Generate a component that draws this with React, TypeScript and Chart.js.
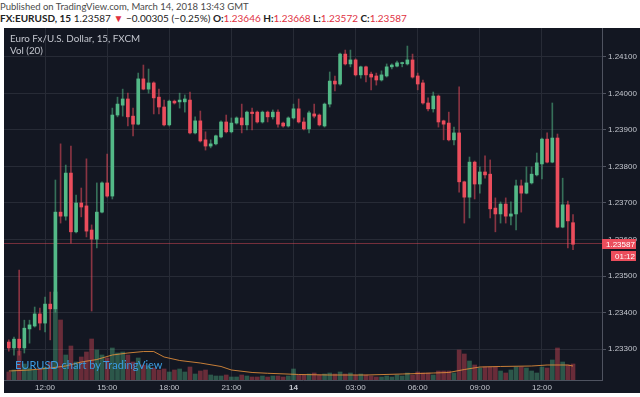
import React, { useEffect, useRef } from "react";
import { Chart, registerables } from "chart.js";

Chart.register(...registerables);

// 15-minute EURUSD candles, Mar 13 10:15 -> Mar 14 13:30 (GMT)
const opens = [
  1.23319, 1.23303, 1.23327, 1.23303, 1.23355, 1.23363, 1.23396, 1.23371, 1.23423, 1.2341,
  1.23675, 1.23664, 1.23782, 1.23621, 1.237, 1.23692, 1.23626, 1.23601, 1.23675, 1.23755,
  1.23719, 1.23941, 1.23968, 1.23985, 1.23938, 1.23916, 1.2404, 1.24012, 1.24029, 1.2399,
  1.23963, 1.23914, 1.23979, 1.23977, 1.23977, 1.23982, 1.23892, 1.23925, 1.23873, 1.23856,
  1.23862, 1.23881, 1.23922, 1.23895, 1.23919, 1.23933, 1.23914, 1.23949, 1.23949, 1.23922,
  1.23949, 1.23936, 1.23949, 1.23919, 1.23911, 1.23933, 1.23958, 1.23922, 1.23903, 1.23944,
  1.23941, 1.23911, 1.23971, 1.24034, 1.24026, 1.24108, 1.24081, 1.24092, 1.24051, 1.24073,
  1.24053, 1.24048, 1.24037, 1.24048, 1.24073, 1.24075, 1.24082, 1.24081, 1.24092, 1.24048,
  1.24029, 1.23974, 1.23958, 1.23993, 1.23925, 1.23919, 1.23873, 1.23892, 1.23758, 1.23716,
  1.23812, 1.23752, 1.23785, 1.23779, 1.23686, 1.2367, 1.23697, 1.23664, 1.2367, 1.23747,
  1.23727, 1.23755, 1.23777, 1.23807, 1.23875, 1.23812, 1.23878, 1.23634, 1.23695, 1.23646,
];
const highs = [
  1.23325, 1.23333, 1.23516, 1.23379, 1.23379, 1.23415, 1.23412, 1.23442, 1.23456, 1.23763,
  1.23862, 1.23804, 1.23856, 1.23722, 1.23741, 1.23821, 1.2364, 1.23755, 1.23758, 1.23834,
  1.2396, 1.2399, 1.24012, 1.24001, 1.2396, 1.24056, 1.24078, 1.24067, 1.24032, 1.24012,
  1.23982, 1.23982, 1.23982, 1.24001, 1.23996, 1.24004, 1.23936, 1.23952, 1.23895, 1.23873,
  1.23886, 1.23925, 1.23941, 1.23933, 1.23936, 1.23971, 1.23952, 1.2396, 1.23952, 1.23952,
  1.23952, 1.23955, 1.23955, 1.23922, 1.23936, 1.23971, 1.23985, 1.23933, 1.23952, 1.23971,
  1.23944, 1.23974, 1.24059, 1.24048, 1.24111, 1.24119, 1.24119, 1.24095, 1.24075, 1.24075,
  1.24059, 1.24056, 1.24062, 1.24081, 1.24081, 1.24089, 1.24086, 1.2413, 1.24108, 1.24056,
  1.24037, 1.23988, 1.24004, 1.23996, 1.23927, 1.23949, 1.23908, 1.24018, 1.2376, 1.23826,
  1.23815, 1.23799, 1.23829, 1.23818, 1.23714, 1.23703, 1.23714, 1.23703, 1.23763, 1.23763,
  1.23799, 1.23799, 1.23837, 1.23878, 1.23892, 1.23974, 1.23889, 1.23768, 1.23705, 1.23668,
];
const lows = [
  1.23294, 1.23283, 1.23283, 1.23289, 1.23316, 1.2336, 1.23352, 1.23347, 1.23325, 1.23401,
  1.23645, 1.23653, 1.2359, 1.23618, 1.23662, 1.23607, 1.23404, 1.23577, 1.23673, 1.23716,
  1.23711, 1.23936, 1.23938, 1.23911, 1.23884, 1.23914, 1.2401, 1.24001, 1.23944, 1.23944,
  1.23911, 1.23911, 1.23971, 1.2396, 1.23949, 1.23889, 1.23889, 1.23867, 1.23845, 1.23851,
  1.23859, 1.23878, 1.23892, 1.23892, 1.23916, 1.23892, 1.239, 1.239, 1.23919, 1.23919,
  1.23922, 1.2393, 1.23908, 1.23908, 1.23908, 1.2393, 1.23919, 1.239, 1.23892, 1.23933,
  1.23911, 1.23908, 1.23963, 1.24007, 1.24023, 1.24078, 1.24073, 1.24048, 1.24042, 1.24032,
  1.2401, 1.24023, 1.24034, 1.24045, 1.24067, 1.24073, 1.24073, 1.24078, 1.24042, 1.2401,
  1.23971, 1.23952, 1.23949, 1.23908, 1.23873, 1.2387, 1.23859, 1.2373, 1.23645, 1.23659,
  1.23711, 1.23727, 1.23768, 1.23659, 1.23621, 1.23645, 1.23645, 1.2364, 1.23626, 1.23675,
  1.23725, 1.23752, 1.23774, 1.23766, 1.2381, 1.2381, 1.23632, 1.23632, 1.23577, 1.23572,
];
const closes = [
  1.23303, 1.23327, 1.23303, 1.23357, 1.23366, 1.23396, 1.23371, 1.23423, 1.2341, 1.23675,
  1.23664, 1.23782, 1.23621, 1.237, 1.23689, 1.23623, 1.23601, 1.23675, 1.23755, 1.23719,
  1.23941, 1.23971, 1.23985, 1.23936, 1.23916, 1.2404, 1.24012, 1.24029, 1.23988, 1.23963,
  1.23914, 1.23979, 1.23974, 1.23982, 1.23985, 1.23892, 1.23925, 1.2387, 1.23856, 1.23862,
  1.23884, 1.23922, 1.23895, 1.23919, 1.23933, 1.23914, 1.23949, 1.23945, 1.23922, 1.23949,
  1.23936, 1.23949, 1.23916, 1.23911, 1.23933, 1.23958, 1.23922, 1.23903, 1.23947, 1.23938,
  1.23914, 1.23971, 1.24034, 1.24026, 1.24108, 1.24081, 1.24092, 1.24051, 1.24073, 1.24051,
  1.24045, 1.24037, 1.24051, 1.24073, 1.24078, 1.24084, 1.24084, 1.24092, 1.24045, 1.24026,
  1.23974, 1.23958, 1.23993, 1.23922, 1.23916, 1.23873, 1.23892, 1.23758, 1.23716, 1.23812,
  1.23752, 1.23785, 1.23777, 1.23684, 1.2367, 1.23697, 1.23664, 1.2367, 1.23747, 1.23727,
  1.23755, 1.23779, 1.2381, 1.23875, 1.23812, 1.23878, 1.23634, 1.23695, 1.23651, 1.23587,
];
const volumes = [
  200, 250, 725, 400, 300, 250, 275, 325, 450, 2200,
  1500, 625, 850, 450, 575, 700, 1025, 750, 625, 550,
  800, 675, 700, 625, 450, 550, 375, 350, 300, 250,
  275, 200, 250, 275, 200, 325, 150, 225, 250, 125,
  100, 100, 125, 75, 75, 125, 100, 75, 75, 100,
  75, 100, 100, 75, 100, 275, 125, 125, 150, 175,
  125, 150, 175, 150, 200, 150, 175, 125, 150, 125,
  100, 75, 75, 100, 75, 125, 100, 175, 125, 200,
  175, 175, 125, 225, 225, 225, 175, 750, 650, 475,
  375, 300, 325, 325, 325, 225, 175, 250, 325, 325,
  300, 225, 175, 325, 300, 500, 800, 450, 375, 400,
];
// Vol MA(20) read at selected bars
const maIndex = [0, 4, 8, 11, 14, 17, 20, 23, 26, 28, 30, 33, 37, 41, 43, 47, 50, 56, 62, 69, 76, 82, 85, 88, 91, 95, 101, 104, 108, 109];
const maValues = [225, 250, 300, 350, 450, 512, 625, 675, 712, 712, 575, 488, 425, 338, 250, 188, 168, 138, 125, 125, 150, 175, 188, 262, 325, 338, 350, 375, 375, 350];

const timeTickIndex = [7, 19, 31, 43, 55, 67, 79, 91, 103];
const timeTickLabels = ["12:00", "15:00", "18:00", "21:00", "14", "03:00", "06:00", "09:00", "12:00"];
const lastPrice = 1.23587;
const countdown = "01:12";

const UP = "#53b987";
const DOWN = "#eb4d5c";
const TXT = "#c3c6ce";
const GRID = "#272b36";
const AXIS = "#4f5360";

const priceLinePlugin = {
  id: "priceLine",
  beforeDatasetsDraw(chart: any) {
    const { ctx, chartArea, scales } = chart;
    const y = Math.round(scales.y.getPixelForValue(lastPrice)) - 0.5;
    ctx.save();
    ctx.strokeStyle = "rgba(235,77,92,0.45)";
    ctx.lineWidth = 1;
    ctx.beginPath();
    ctx.moveTo(chartArea.left, y);
    ctx.lineTo(chartArea.right, y);
    ctx.stroke();
    ctx.restore();
  },
  afterDraw(chart: any) {
    const { ctx, chartArea, scales } = chart;
    const y = Math.round(scales.y.getPixelForValue(lastPrice));
    ctx.save();
    ctx.fillStyle = DOWN;
    ctx.fillRect(chartArea.right, y - 5, 34, 10);
    ctx.fillRect(chartArea.right + 9, y + 7, 25, 10);
    ctx.fillStyle = "#ffffff";
    ctx.font = '8px "Liberation Sans", Arial, sans-serif';
    ctx.textBaseline = "middle";
    ctx.textAlign = "left";
    ctx.fillText(lastPrice.toFixed(5), chartArea.right + 4, y + 0.5);
    ctx.fillText(countdown, chartArea.right + 13, y + 12.5);
    ctx.restore();
  },
};

export default function App() {
  const ref = useRef<HTMLCanvasElement | null>(null);

  useEffect(() => {
    if (!ref.current) return;
    const up = opens.map((o, i) => closes[i] >= o);
    const chart = new Chart(ref.current, {
      type: "bar",
      data: {
        datasets: [
          {
            type: "bar",
            label: "Volume",
            data: volumes.map((v, i) => ({ x: i, y: v })),
            yAxisID: "yv",
            backgroundColor: up.map((u) => (u ? "rgba(83,185,135,0.4)" : "rgba(235,77,92,0.4)")),
            barThickness: 4,
            grouped: false,
            order: 4,
          } as any,
          {
            type: "line",
            label: "Vol MA",
            data: maIndex.map((x, k) => ({ x, y: maValues[k] })),
            yAxisID: "yv",
            borderColor: "rgba(230,145,60,0.85)",
            borderWidth: 1,
            pointRadius: 0,
            tension: 0,
            order: 3,
          } as any,
          {
            type: "bar",
            label: "Wicks",
            data: lows.map((l, i) => ({ x: i, y: [l, highs[i]] })),
            yAxisID: "y",
            backgroundColor: up.map((u) => (u ? "rgba(83,185,135,0.55)" : "rgba(235,77,92,0.55)")),
            barThickness: 1,
            grouped: false,
            order: 2,
          } as any,
          {
            type: "bar",
            label: "Bodies",
            data: opens.map((o, i) => ({ x: i, y: [o, closes[i]] })),
            yAxisID: "y",
            backgroundColor: up.map((u) => (u ? UP : DOWN)),
            barThickness: 3,
            minBarLength: 1,
            grouped: false,
            order: 1,
          } as any,
        ],
      },
      options: {
        animation: false,
        responsive: false,
        devicePixelRatio: 1,
        layout: { padding: 0 },
        plugins: { legend: { display: false }, tooltip: { enabled: false } },
        scales: {
          x: {
            type: "linear",
            offset: false,
            min: -0.93,
            max: 114.6,
            afterBuildTicks: (s: any) => {
              s.ticks = timeTickIndex.map((v) => ({ value: v }));
            },
            afterFit: (s: any) => {
              s.height = 13;
              s.paddingLeft = 0;
              s.paddingRight = 0;
            },
            ticks: {
              autoSkip: false,
              maxRotation: 0,
              padding: 3,
              color: TXT,
              font: (c: any) => ({
                family: '"Liberation Sans", Arial, sans-serif',
                size: 8,
                weight: c.tick && c.tick.label === "14" ? "bold" : "normal",
              }),
              callback: (v: any) => timeTickLabels[timeTickIndex.indexOf(Number(v))] ?? "",
            },
            grid: { color: GRID, drawTicks: false, offset: false },
            border: { color: AXIS },
          } as any,
          y: {
            position: "right",
            min: 1.2321507,
            max: 1.2417945,
            afterFit: (s: any) => {
              s.width = 38;
              s.paddingTop = 0;
              s.paddingBottom = 0;
            },
            ticks: {
              stepSize: 0.001,
              includeBounds: false,
              padding: 2,
              color: TXT,
              font: { family: '"Liberation Sans", Arial, sans-serif', size: 8 },
              callback: (v: any) => Number(v).toFixed(5),
            },
            grid: { color: GRID, tickColor: AXIS, tickLength: 4 },
            border: { color: AXIS },
          } as any,
          yv: { display: false, min: 0, max: 8800 } as any,
        },
      },
      plugins: [priceLinePlugin],
    });
    return () => chart.destroy();
  }, []);

  const head: React.CSSProperties = {
    position: "absolute",
    left: 0,
    fontFamily: 'Lato, "Open Sans", sans-serif',
    fontSize: 10,
    lineHeight: "12px",
    whiteSpace: "pre",
    color: "#4a4a4a",
  };
  const red = { color: "#e0303f" };
  const b = { fontWeight: 700, color: "#222" };
  const inner: React.CSSProperties = {
    position: "absolute",
    left: 10,
    fontFamily: 'Lato, "Open Sans", sans-serif',
    fontSize: 9.8,
    lineHeight: "11px",
    color: "#c3c6ce",
    whiteSpace: "pre",
  };

  return (
    <div style={{ position: "fixed", left: 0, top: 0, width: 640, height: 397, background: "#fff", overflow: "hidden" }}>
      <div style={{ ...head, top: 1, fontSize: 9.5 }}>Published on TradingView.com, March 14, 2018 13:43 GMT</div>
      <div style={{ ...head, top: 12, color: "#222" }}>
        <span style={b}>FX:EURUSD, 15</span>
        {" 1.23587 "}
        <span style={red}>▼</span>
        {" −0.00305 (−0.25%) "}
        <span style={b}>O:</span>
        <span style={red}>1.23646</span>
        <span style={b}> H:</span>
        <span style={red}>1.23668</span>
        <span style={b}> L:</span>
        <span style={red}>1.23572</span>
        <span style={b}> C:</span>
        <span style={red}>1.23587</span>
      </div>
      <div style={{ position: "absolute", left: 4, top: 28, width: 636, height: 365, background: "#131722" }}>
        <canvas ref={ref} width={636} height={365} style={{ display: "block", width: 636, height: 365 }} />
      </div>
      <div style={{ ...inner, top: 33 }}>Euro Fx/U.S. Dollar, 15, FXCM</div>
      <div style={{ ...inner, top: 45 }}>Vol (20)</div>
      <div
        style={{
          position: "absolute",
          left: 15,
          top: 359,
          fontFamily: 'Lato, "Open Sans", sans-serif',
          fontSize: 11,
          lineHeight: "12px",
          color: "#3b9be0",
          whiteSpace: "pre",
        }}
      >
        EURUSD chart by TradingView
      </div>
    </div>
  );
}
